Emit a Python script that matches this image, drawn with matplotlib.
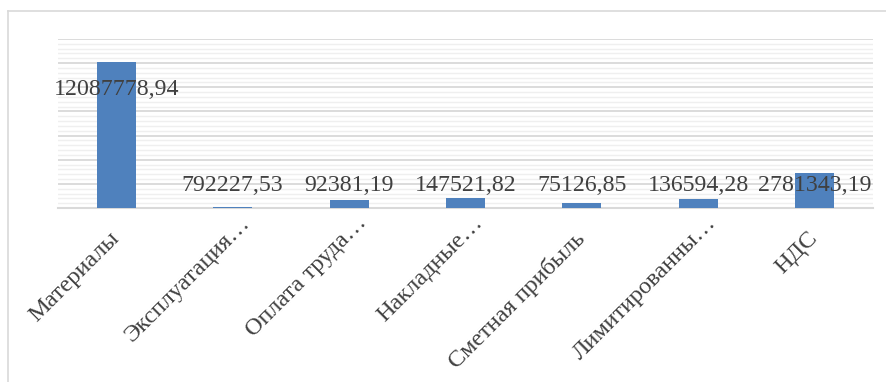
import matplotlib.pyplot as plt
from matplotlib.lines import Line2D
from matplotlib.ticker import MultipleLocator
from matplotlib.transforms import ScaledTranslation

DPI = 100

categories = [
    "Материалы",
    "Эксплуатация…",
    "Оплата труда…",
    "Накладные…",
    "Сметная прибыль",
    "Лимитированны…",
    "НДС",
]
# bar heights (the printed labels do not match them)
bar_heights = [12087778.94, 100000, 700000, 800000, 390000, 720000, 2940000]
value_labels = [
    "12087778,94",
    "792227,53",
    "92381,19",
    "147521,82",
    "75126,85",
    "136594,28",
    "2781343,19",
]

BAR_COLOR = "#4F81BD"
TEXT_COLOR = "#404040"
SERIF = ["Liberation Serif", "DejaVu Serif"]

plt.rcParams.update({"font.family": SERIF})

fig = plt.figure(figsize=(8.87, 3.82), dpi=DPI)
ax = fig.add_axes([58 / 887, 1 - 208 / 382, (873 - 58) / 887, (208 - 39) / 382])

x = list(range(len(categories)))
ax.bar(x, bar_heights, width=0.335, color=BAR_COLOR, zorder=3)

ax.set_xlim(-0.5, len(categories) - 0.5)
ax.set_ylim(0, 14_000_000)
ax.yaxis.set_major_locator(MultipleLocator(2_000_000))
ax.yaxis.set_minor_locator(MultipleLocator(400_000))
ax.grid(axis="y", which="major", color="#d9d9d9", linewidth=1.3, zorder=0)
ax.grid(axis="y", which="minor", color="#efefef", linewidth=1.0, zorder=0)
ax.tick_params(axis="y", which="both", left=False, labelleft=False)
ax.tick_params(axis="x", length=0, pad=4)

for side in ("top", "right", "left"):
    ax.spines[side].set_visible(False)
ax.spines["bottom"].set_color("#d9d9d9")
ax.spines["bottom"].set_linewidth(1.5)

ax.set_xticks(x)
ax.set_xticklabels(categories, rotation=45, ha="right", va="top",
                   rotation_mode="anchor", fontsize=17.5, color=TEXT_COLOR)
for lbl in ax.get_xticklabels():
    # truncated labels sit a bit further up-right in the original
    dx, dy = (7, 1) if lbl.get_text().endswith("…") else (-8, -14)
    shift = ScaledTranslation(dx / DPI, dy / DPI, fig.dpi_scale_trans)
    lbl.set_transform(lbl.get_transform() + shift)

# data labels: first one sits inside the tall bar, the rest on one row
for i, label in enumerate(value_labels):
    y = 9_850_000 if i == 0 else 1_900_000
    ax.text(i, y, label, ha="center", va="center", fontsize=17.2,
            color=TEXT_COLOR, zorder=4)

# outer chart frame (left and top edges visible)
fig.add_artist(Line2D([8.5 / 887, 8.5 / 887], [0, 1 - 10.5 / 382],
                      transform=fig.transFigure, color="#d9d9d9", linewidth=1.2))
fig.add_artist(Line2D([8.5 / 887, 1], [1 - 10.5 / 382, 1 - 10.5 / 382],
                      transform=fig.transFigure, color="#d9d9d9", linewidth=1.2))

fig.savefig("out.png", dpi=DPI)
